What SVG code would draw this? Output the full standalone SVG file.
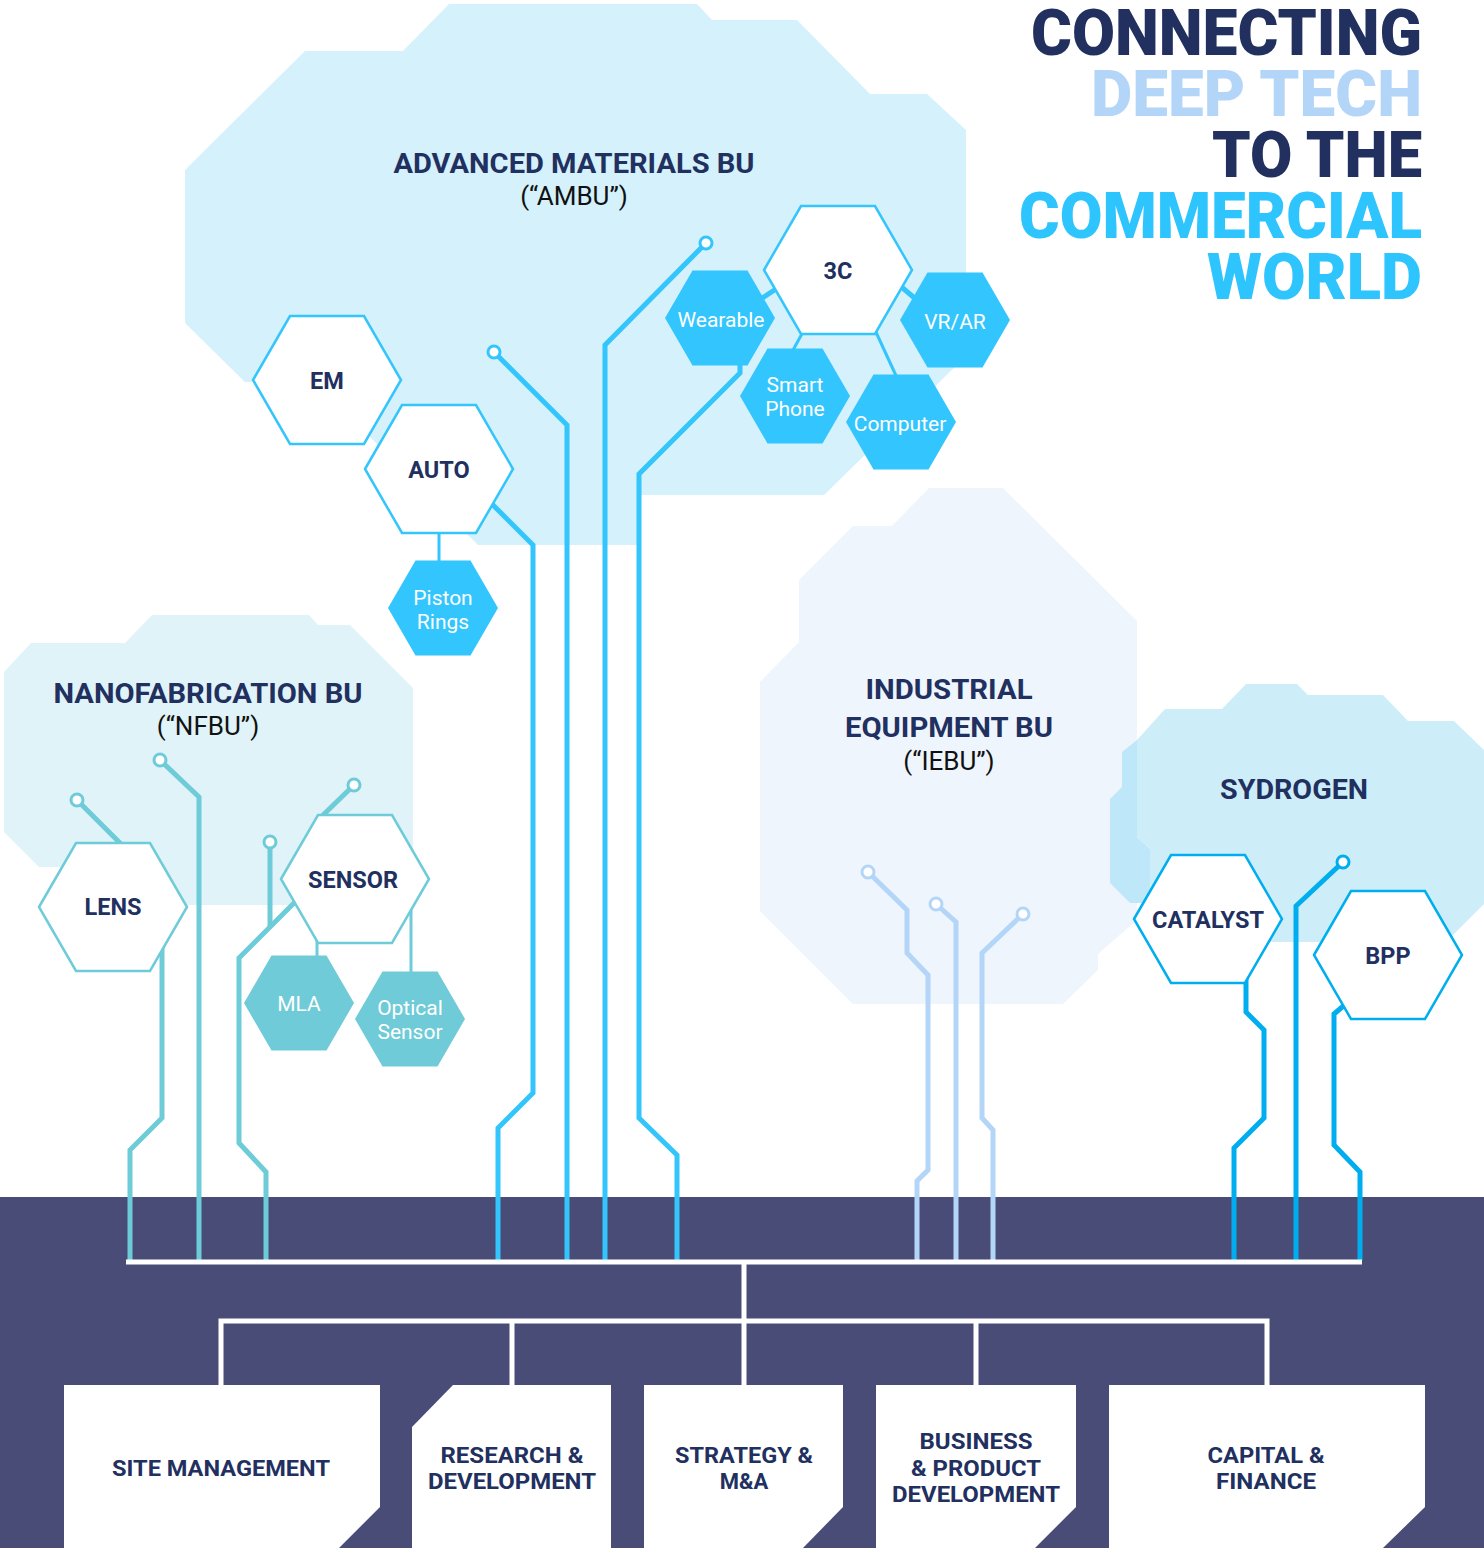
<svg xmlns="http://www.w3.org/2000/svg" xmlns:xlink="http://www.w3.org/1999/xlink" width="1484" height="1548" viewBox="0 0 1484 1548">
<defs>
<style>
.bold{font-family:Roboto,"Liberation Sans",sans-serif;font-weight:700;fill:#21305f}
.reg{font-family:Roboto,"Liberation Sans",sans-serif;font-weight:400;fill:#111}
.wh{font-family:Roboto,"Liberation Sans",sans-serif;font-weight:400;fill:#ffffff;font-size:21px;text-anchor:middle}
.title{font-family:Roboto,"Liberation Sans",sans-serif;font-weight:900;font-size:64px;text-anchor:end}
.box{font-family:Roboto,"Liberation Sans",sans-serif;font-weight:700;fill:#21305f;font-size:22px;text-anchor:middle}
.hl{font-size:23.5px;text-anchor:middle}
.cl{font-size:28px;text-anchor:middle}
.sub{font-size:26px;text-anchor:middle}
.amb{fill:none;stroke:#33c5fb;stroke-width:5;stroke-linejoin:miter}
.nfb{fill:none;stroke:#6ecbd8;stroke-width:5}
.ieb{fill:none;stroke:#b3d6f8;stroke-width:5}
.syd{fill:none;stroke:#00aeef;stroke-width:5}
.thinA{fill:none;stroke:#33c5fb;stroke-width:3}
.thinN{fill:none;stroke:#6ecbd8;stroke-width:3}
.bus{fill:none;stroke:#ffffff;stroke-width:5}
.dotA{fill:#fff;stroke:#33c5fb;stroke-width:3}
.dotN{fill:#fff;stroke:#6ecbd8;stroke-width:3}
.dotI{fill:#fff;stroke:#b3d6f8;stroke-width:3}
.dotS{fill:#fff;stroke:#00aeef;stroke-width:3}
.hexA{fill:#fff;stroke:#33c5fb;stroke-width:2.5}
.hexN{fill:#fff;stroke:#6ecbd8;stroke-width:2.5}
.hexS{fill:#fff;stroke:#00aeef;stroke-width:2.5}
.fA{fill:#33c5fd}
.fN{fill:#6fcbd7}
</style>
<polygon id="hL" points="-74,0 -37,-64 37,-64 74,0 37,64 -37,64"/>
<polygon id="hS" points="-55,0 -27.5,-47.6 27.5,-47.6 55,0 27.5,47.6 -27.5,47.6"/>
</defs>

<!-- clouds -->
<g id="clouds">
<polygon id="cloud-ambu" fill="#d4f1fc" points="185,170 305,51 403,51 449,4 697,4 712,20 797,20 870,94 927,94 966,130 966,356 824,495 637,495 637,545 478,545 370,437 310,382 245,382 185,323"/>
<polygon id="cloud-nfbu" fill="#e0f3f8" points="4,672 31,643 125,643 152,615 309,615 318,625 350,625 413,688 413,905 110,905 110,867 39,867 4,832"/>
<polygon id="cloud-iebu" fill="#eef5fd" points="929,488 1003,488 1137,621 1137,920 1098,954 1098,970 1063,1004 853,1004 760,911 760,682 799,642 799,580 853,526 892,526"/>
<polygon id="cloud-syd-tab" fill="#bfe7fa" points="1122,752 1137,740 1137,837 1150,849 1150,903 1130,903 1110,883 1110,799 1122,787"/>
<polygon id="cloud-syd" fill="#cdeef9" points="1137,740 1165,709 1222,709 1246,684 1297,684 1308,695 1383,695 1408,721 1454,721 1484,750 1484,904 1446,942 1150,942 1150,849 1137,837"/>
</g>

<rect id="band" x="0" y="1197" width="1484" height="351" fill="#484c77"/>

<!-- connectors -->
<g id="connectors">
<!-- AMBU -->
<polyline class="amb" points="490,502 533,545 533,1093 498,1128 498,1260"/>
<polyline class="amb" points="494,352 567,425 567,1260"/>
<polyline class="amb" points="706,243 605,345 605,1260"/>
<polyline class="amb" points="740,360 740,373 639,474 639,1118 677,1155 677,1260"/>
<line class="amb" x1="785" y1="283" x2="755" y2="303"/>
<line class="thinA" x1="804" y1="330" x2="792" y2="352"/>
<line class="thinA" x1="875" y1="330" x2="898" y2="380"/>
<line class="amb" x1="898" y1="284" x2="918" y2="301"/>
<line class="thinA" x1="439" y1="530" x2="439" y2="565"/>
<circle class="dotA" cx="494" cy="352" r="6"/>
<circle class="dotA" cx="706" cy="243" r="6"/>
<!-- NFBU -->
<polyline class="nfb" points="77,800 122,845"/>
<polyline class="nfb" points="162,940 162,1118 130,1150 130,1260"/>
<polyline class="nfb" points="160,760 199,797 199,1260"/>
<polyline class="nfb" points="270,842 270,927"/>
<polyline class="nfb" points="298,899 239,958 239,1143 266,1172 266,1260"/>
<polyline class="nfb" points="354,785 320,818"/>
<line class="thinN" x1="317" y1="940" x2="317" y2="960"/>
<line class="thinN" x1="411" y1="905" x2="411" y2="975"/>
<circle class="dotN" cx="77" cy="800" r="6"/>
<circle class="dotN" cx="160" cy="760" r="6"/>
<circle class="dotN" cx="270" cy="842" r="6"/>
<circle class="dotN" cx="354" cy="785" r="6"/>
<!-- IEBU -->
<polyline class="ieb" points="868,872 907,910 907,953 928,975 928,1170 917,1181 917,1260"/>
<polyline class="ieb" points="936,904 956,922 956,1260"/>
<polyline class="ieb" points="1023,914 982,953 982,1118 993,1130 993,1260"/>
<circle class="dotI" cx="868" cy="872" r="6"/>
<circle class="dotI" cx="936" cy="904" r="6"/>
<circle class="dotI" cx="1023" cy="914" r="6"/>
<!-- Sydrogen -->
<polyline class="syd" points="1246,975 1246,1012 1264,1030 1264,1118 1234,1148 1234,1260"/>
<polyline class="syd" points="1343,862 1296,906 1296,1260"/>
<polyline class="syd" points="1348,1002 1334,1014 1334,1145 1360,1172 1360,1260"/>
<circle class="dotS" cx="1343" cy="862" r="6"/>
<!-- bus -->
<line class="bus" x1="126" y1="1262" x2="1362" y2="1262"/>
<line class="bus" x1="744" y1="1262" x2="744" y2="1385"/>
<polyline class="bus" points="221,1385 221,1321 1267,1321 1267,1385"/>
<line class="bus" x1="512" y1="1321" x2="512" y2="1385"/>
<line class="bus" x1="976" y1="1321" x2="976" y2="1385"/>
</g>

<!-- bottom boxes -->
<g id="site-management">
<polygon fill="#fff" points="64,1385 380,1385 380,1507 339,1548 64,1548"/>
<text class="box" x="221" y="1476" textLength="218" lengthAdjust="spacingAndGlyphs">SITE MANAGEMENT</text>
</g>
<g id="research-development">
<polygon fill="#fff" points="453,1385 611,1385 611,1548 412,1548 412,1427"/>
<text class="box" x="512" y="1463" textLength="143" lengthAdjust="spacingAndGlyphs">RESEARCH &amp;</text>
<text class="box" x="512" y="1489" textLength="168" lengthAdjust="spacingAndGlyphs">DEVELOPMENT</text>
</g>
<g id="strategy-ma">
<polygon fill="#fff" points="644,1385 843,1385 843,1507 803,1548 644,1548"/>
<text class="box" x="744" y="1463" textLength="138" lengthAdjust="spacingAndGlyphs">STRATEGY &amp;</text>
<text class="box" x="744" y="1489">M&amp;A</text>
</g>
<g id="business-product">
<polygon fill="#fff" points="876,1385 1076,1385 1076,1507 1035,1548 876,1548"/>
<text class="box" x="976" y="1449" textLength="113" lengthAdjust="spacingAndGlyphs">BUSINESS</text>
<text class="box" x="976" y="1476" textLength="130" lengthAdjust="spacingAndGlyphs">&amp; PRODUCT</text>
<text class="box" x="976" y="1502" textLength="168" lengthAdjust="spacingAndGlyphs">DEVELOPMENT</text>
</g>
<g id="capital-finance">
<polygon fill="#fff" points="1109,1385 1425,1385 1425,1507 1383,1548 1109,1548"/>
<text class="box" x="1266" y="1463" textLength="117" lengthAdjust="spacingAndGlyphs">CAPITAL &amp;</text>
<text class="box" x="1266" y="1489" textLength="100" lengthAdjust="spacingAndGlyphs">FINANCE</text>
</g>

<!-- cloud labels -->
<g id="label-ambu">
<text class="bold cl" x="574" y="173" textLength="361" lengthAdjust="spacingAndGlyphs">ADVANCED MATERIALS BU</text>
<text class="reg sub" x="574" y="205">(“AMBU”)</text>
</g>
<g id="label-nfbu">
<text class="bold cl" x="208" y="703" textLength="309" lengthAdjust="spacingAndGlyphs">NANOFABRICATION BU</text>
<text class="reg sub" x="208" y="735">(“NFBU”)</text>
</g>
<g id="label-iebu">
<text class="bold cl" x="949" y="699" textLength="167" lengthAdjust="spacingAndGlyphs">INDUSTRIAL</text>
<text class="bold cl" x="949" y="737" textLength="208" lengthAdjust="spacingAndGlyphs">EQUIPMENT BU</text>
<text class="reg sub" x="949" y="770">(“IEBU”)</text>
</g>
<g id="label-sydrogen">
<text class="bold cl" x="1294" y="799" textLength="148" lengthAdjust="spacingAndGlyphs">SYDROGEN</text>
</g>

<!-- hex nodes -->
<g id="node-em"><use href="#hL" class="hexA" x="327" y="380"/><text class="bold hl" x="327" y="389">EM</text></g>
<g id="node-auto"><use href="#hL" class="hexA" x="439" y="469"/><text class="bold hl" x="439" y="478">AUTO</text></g>
<g id="node-piston"><use href="#hS" class="fA" x="443" y="608"/><text class="wh" x="443" y="605">Piston</text><text class="wh" x="443" y="629">Rings</text></g>
<g id="node-3c"><use href="#hL" class="hexA" x="838" y="270"/><text class="bold hl" x="838" y="279">3C</text></g>
<g id="node-wearable"><use href="#hS" class="fA" x="720" y="318"/><text class="wh" x="721" y="327">Wearable</text></g>
<g id="node-smartphone"><use href="#hS" class="fA" x="795" y="396"/><text class="wh" x="795" y="392">Smart</text><text class="wh" x="795" y="416">Phone</text></g>
<g id="node-computer"><use href="#hS" class="fA" x="901" y="422"/><text class="wh" x="900" y="431">Computer</text></g>
<g id="node-vrar"><use href="#hS" class="fA" x="955" y="320"/><text class="wh" x="955" y="329">VR/AR</text></g>
<g id="node-lens"><use href="#hL" class="hexN" x="113" y="907"/><text class="bold hl" x="113" y="915">LENS</text></g>
<g id="node-sensor"><use href="#hL" class="hexN" x="355" y="879"/><text class="bold hl" x="353" y="888">SENSOR</text></g>
<g id="node-mla"><use href="#hS" class="fN" x="299" y="1003"/><text class="wh" x="299" y="1011">MLA</text></g>
<g id="node-optical"><use href="#hS" class="fN" x="410" y="1019"/><text class="wh" x="410" y="1015">Optical</text><text class="wh" x="410" y="1039">Sensor</text></g>
<g id="node-catalyst"><use href="#hL" class="hexS" x="1208" y="919"/><text class="bold hl" x="1208" y="928">CATALYST</text></g>
<g id="node-bpp"><use href="#hL" class="hexS" x="1388" y="955"/><text class="bold hl" x="1388" y="964">BPP</text></g>

<!-- title -->
<g id="title">
<text class="title" x="1422" y="55" fill="#21305f" textLength="391" lengthAdjust="spacingAndGlyphs">CONNECTING</text>
<text class="title" x="1422" y="116" fill="#b3d6f8" textLength="331" lengthAdjust="spacingAndGlyphs">DEEP TECH</text>
<text class="title" x="1422" y="177" fill="#21305f" textLength="210" lengthAdjust="spacingAndGlyphs">TO THE</text>
<text class="title" x="1422" y="238" fill="#2ec4fd" textLength="403" lengthAdjust="spacingAndGlyphs">COMMERCIAL</text>
<text class="title" x="1422" y="299" fill="#2ec4fd" textLength="215" lengthAdjust="spacingAndGlyphs">WORLD</text>
</g>
</svg>
